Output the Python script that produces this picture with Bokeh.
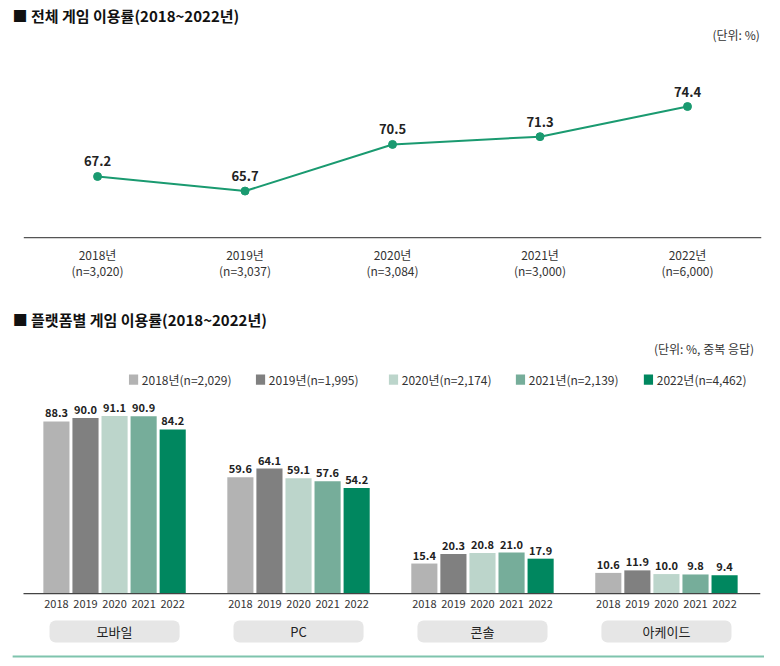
from bokeh.plotting import figure
from bokeh.layouts import column
from bokeh.models import Range1d
from bokeh.embed import file_html
from bokeh.resources import INLINE
from bokeh.core.properties import value

FONT = value("Noto Sans CJK KR")

years_top = ["2018년", "2019년", "2020년", "2021년", "2022년"]
n_top = ["(n=3,020)", "(n=3,037)", "(n=3,084)", "(n=3,000)", "(n=6,000)"]
rate_top = [67.2, 65.7, 70.5, 71.3, 74.4]

platforms = ["모바일", "PC", "콘솔", "아케이드"]
bar_years = ["2018", "2019", "2020", "2021", "2022"]
legend_labels = ["2018년(n=2,029)", "2019년(n=1,995)", "2020년(n=2,174)", "2021년(n=2,139)", "2022년(n=4,462)"]
platform_rates = {
    "2018": [88.3, 59.6, 15.4, 10.6],
    "2019": [90.0, 64.1, 20.3, 11.9],
    "2020": [91.1, 59.1, 20.8, 10.0],
    "2021": [90.9, 57.6, 21.0, 9.8],
    "2022": [84.2, 54.2, 17.9, 9.4],
}
colors = ["#b3b3b3", "#808080", "#bcd5cb", "#76ad9a", "#00875f"]

def base_fig(w, h, xr, yr):
    f = figure(width=w, height=h, x_range=Range1d(*xr), y_range=Range1d(*yr),
               output_backend="svg", toolbar_location=None, min_border=0)
    f.axis.visible = False
    f.grid.visible = False
    f.outline_line_color = None
    return f

# ---- top: line chart ----
p1 = base_fig(764, 300, (-0.658, 4.522), (54.44, 85.31))
xs = list(range(len(rate_top)))
p1.line(xs, rate_top, line_color="#1a9a70", line_width=2)
p1.scatter(xs, rate_top, size=8, color="#1a9a70")
p1.text(xs, rate_top, text=[f"{v:.1f}" for v in rate_top], y_offset=-10,
        text_align="center", text_baseline="bottom", text_font=FONT,
        text_font_style="bold", text_font_size="13px", text_color="#222222")
p1.segment(x0=[-0.5], y0=[60.92], x1=[4.5], y1=[60.92], line_color="#555555", line_width=1.2)
p1.text(xs, [60.92]*5, text=years_top, y_offset=8, text_align="center", text_baseline="top",
        text_font=FONT, text_font_size="12px", text_color="#333333")
p1.text(xs, [60.92]*5, text=n_top, y_offset=24, text_align="center", text_baseline="top",
        text_font=FONT, text_font_size="12px", text_color="#333333")
p1.text([-0.576], [84.8], text=["■  전체 게임 이용률(2018~2022년)"], text_baseline="top",
        text_font=FONT, text_font_size="15px", text_font_style="bold", text_color="#111111")
p1.text([4.508], [81.8], text=["(단위:  %)"], text_align="right", text_baseline="middle",
        text_font=FONT, text_font_size="12px", text_color="#333333")

# ---- bottom: bar chart ----
p2 = base_fig(764, 358, (-0.62, 3.533), (-33.3, 150.3))
step = 0.158
for j, y in enumerate(bar_years):
    xj = [i + (j - 2) * step for i in range(len(platforms))]
    vals = platform_rates[y]
    p2.vbar(x=xj, top=vals, bottom=0, width=0.142, fill_color=colors[j], line_color=None)
    p2.text(xj, vals, text=[f"{v:.1f}" for v in vals], y_offset=-4, text_align="center",
            text_baseline="bottom", text_font=FONT, text_font_style="bold",
            text_font_size="11px", text_color="#222222")
    p2.text(xj, [0]*4, text=[y]*4, y_offset=6, text_align="center", text_baseline="top",
            text_font=FONT, text_font_size="11px", text_color="#333333")
p2.segment(x0=[-0.495], y0=[0], x1=[3.51], y1=[0], line_color="#444444", line_width=1.2)
px = list(range(len(platforms)))
p2.rect(px, [-19.5]*4, width=0.707, height=11.3, fill_color="#e6e6e6", line_color=None,
        border_radius=6)
p2.text(px, [-19.5]*4, text=platforms, text_align="center", text_baseline="middle",
        text_font=FONT, text_font_size="13px", text_color="#222222")
p2.segment(x0=[-0.554], y0=[-32.3], x1=[3.533], y1=[-32.3], line_color="#7fc4ad", line_width=2)
p2.text([-0.554], [140.5], text=["■  플랫폼별 게임 이용률(2018~2022년)"], text_baseline="middle",
        text_font=FONT, text_font_size="15px", text_font_style="bold", text_color="#111111")
p2.text([3.52], [125.6], text=["(단위:  %,  중복  응답)"], text_align="right", text_baseline="middle",
        text_font=FONT, text_font_size="12px", text_color="#333333")
leg_x = [(133 - 114) / 184, (260 - 114) / 184, (393 - 114) / 184, (520 - 114) / 184, (648 - 114) / 184]
ly = 109.7
p2.rect(leg_x, [ly]*5, width=0.05, height=5.2, fill_color=colors, line_color=None)
p2.text([x + 0.045 for x in leg_x], [ly]*5, text=legend_labels, text_baseline="middle",
        text_font=FONT, text_font_size="12px", text_color="#333333")

layout = column(p1, p2, spacing=0)
open("out.html", "w").write(file_html(layout, INLINE))
